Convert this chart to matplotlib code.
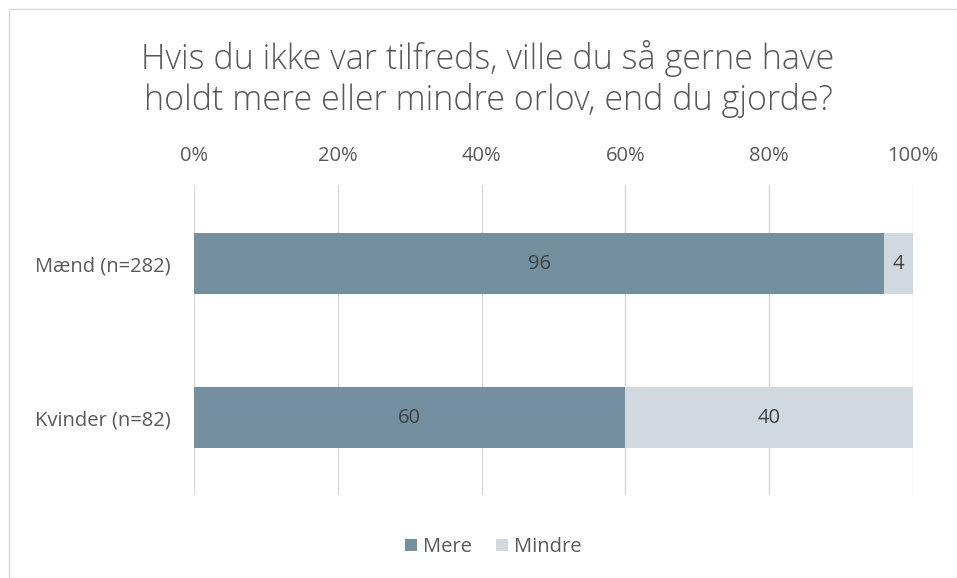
import matplotlib.pyplot as plt
from matplotlib.patches import Rectangle

# Chart data
categories = ['Mænd (n=282)', 'Kvinder (n=82)']
mere = [96, 60]
mindre = [4, 40]
series_names = ['Mere', 'Mindre']
ticks = [0, 20, 40, 60, 80, 100]
tick_labels = ['0%', '20%', '40%', '60%', '80%', '100%']

dark = '#738fa0'
light = '#d0d9e0'
grey_txt = '#595959'

plt.rcParams['font.family'] = ['Open Sans', 'DejaVu Sans']

fig = plt.figure(figsize=(9.57, 5.78), dpi=100)
# chart area border
fig.patches.append(Rectangle((9 / 957, 0), 1 - 9 / 957, 1 - 9 / 578, transform=fig.transFigure,
                             fill=False, edgecolor='#d9d9d9', linewidth=1))

ax = fig.add_axes([194 / 957, 1 - 495 / 578, (913 - 194) / 957, (495 - 185) / 578])

y = list(range(len(categories)))
b1 = ax.barh(y, mere, height=0.4, color=dark, label=series_names[0], zorder=3)
b2 = ax.barh(y, mindre, left=mere, height=0.4, color=light, label=series_names[1], zorder=3)

for i in range(len(categories)):
    ax.text(mere[i] / 2, y[i], str(mere[i]), ha='center', va='center', fontsize=14.5, color='#404040', zorder=4)
    ax.text(mere[i] + mindre[i] / 2, y[i], str(mindre[i]), ha='center', va='center', fontsize=14.5,
            color='#404040', zorder=4)

ax.set_xlim(0, 100)
ax.set_ylim(1.503, -0.51)
ax.set_xticks(ticks)
ax.set_xticklabels(tick_labels)
ax.set_yticks(y)
ax.set_yticklabels(categories)
ax.xaxis.tick_top()
ax.tick_params(axis='x', length=0, pad=14, labelsize=14.5, colors=grey_txt)
ax.tick_params(axis='y', length=0, pad=17, labelsize=14.5, colors=grey_txt)
ax.grid(axis='x', color='#d9d9d9', linewidth=1, zorder=0)
for s in ax.spines.values():
    s.set_visible(False)

fig.text(488 / 957, 1 - 79 / 578, 'Hvis du ikke var tilfreds, ville du så gerne have\nholdt mere eller mindre orlov, end du gjorde?',
         ha='center', va='center', fontsize=24.5, color=grey_txt, fontweight='light', linespacing=1.22)

fig.legend(handles=[b1, b2], loc='center', bbox_to_anchor=(493 / 957, 1 - 547 / 578), ncol=2, frameon=False,
           fontsize=14.5, labelcolor=grey_txt, handlelength=0.6, handleheight=0.6, handletextpad=0.3,
           columnspacing=1.2)

fig.savefig('out.png', dpi=100)
